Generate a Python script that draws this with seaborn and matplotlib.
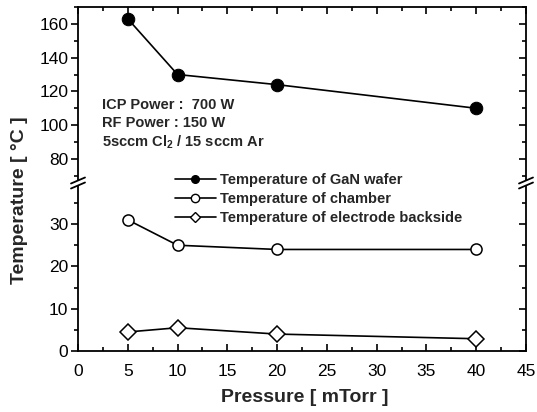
import matplotlib
matplotlib.use("Agg")
import matplotlib.pyplot as plt
from matplotlib.lines import Line2D
from matplotlib.ticker import MultipleLocator
import seaborn as sns
import pandas as pd

pressure = [5, 10, 20, 40]
gan_wafer = [163, 130, 124, 110]
chamber = [31, 25, 24, 24]
electrode = [4.5, 5.5, 4.0, 2.9]
labels = ["Temperature of GaN wafer", "Temperature of chamber",
          "Temperature of electrode backside"]
notes = ["ICP Power :  700 W", "RF Power : 150 W", "5sccm Cl$_2$ / 15 sccm Ar"]

sns.set_style("ticks")
plt.rcParams["font.family"] = ["Liberation Sans", "DejaVu Sans"]
plt.rcParams["mathtext.fontset"] = "custom"
plt.rcParams["mathtext.rm"] = "Liberation Sans:bold"
plt.rcParams["mathtext.default"] = "rm"

W, H = 537, 412
fig = plt.figure(figsize=(W / 100, H / 100), dpi=100)

def fx(px):
    return px / W

def fy(py):
    return 1 - py / H

L, R = 78, 526
ax_top = fig.add_axes([fx(L), fy(180), fx(R - L), fy(7) - fy(180)])
ax_bot = fig.add_axes([fx(L), fy(351), fx(R - L), fy(186) - fy(351)])

df = pd.DataFrame({"p": pressure, "gan": gan_wafer, "ch": chamber, "el": electrode})

sns.lineplot(data=df, x="p", y="gan", ax=ax_top, color="black", lw=1.2,
             marker="o", markersize=9, markerfacecolor="black",
             markeredgecolor="black", label=labels[0], legend=False)
sns.lineplot(data=df, x="p", y="ch", ax=ax_bot, color="black", lw=1.2,
             marker="o", markersize=8, markerfacecolor="white",
             markeredgecolor="black", markeredgewidth=1.1, label=labels[1], legend=False)
sns.lineplot(data=df, x="p", y="el", ax=ax_bot, color="black", lw=1.2,
             marker="D", markersize=8, markerfacecolor="white",
             markeredgecolor="black", markeredgewidth=1.1, label=labels[2], legend=False)

TICK_FS = 12.5
for ax in (ax_top, ax_bot):
    ax.set_xlim(0, 45)
    ax.xaxis.set_major_locator(MultipleLocator(5))
    ax.xaxis.set_minor_locator(MultipleLocator(2.5))
    for s in ax.spines.values():
        s.set_linewidth(1.3)
        s.set_color("black")
    ax.set_xlabel("")
    ax.set_ylabel("")
    ax.tick_params(axis="y", which="both", left=True, right=True, labelsize=TICK_FS,
                   direction="out", width=1.2, colors="black", pad=2)
    ax.tick_params(axis="y", which="major", length=5)
    ax.tick_params(axis="y", which="minor", length=3)
    ax.tick_params(axis="x", which="both", width=1.2, colors="black", labelsize=TICK_FS)

# top panel
ax_top.set_ylim(67.5, 170)
ax_top.yaxis.set_major_locator(MultipleLocator(20))
ax_top.yaxis.set_minor_locator(MultipleLocator(10))
ax_top.set_yticks([80, 100, 120, 140, 160])
ax_top.spines["bottom"].set_visible(False)
ax_top.tick_params(axis="x", which="both", bottom=False, labelbottom=False,
                   top=True, direction="in")
ax_top.tick_params(axis="x", which="major", length=5)
ax_top.tick_params(axis="x", which="minor", length=3)

# bottom panel
ax_bot.set_ylim(0, 39)
ax_bot.yaxis.set_major_locator(MultipleLocator(10))
ax_bot.yaxis.set_minor_locator(MultipleLocator(5))
ax_bot.spines["top"].set_visible(False)
ax_bot.tick_params(axis="x", which="both", top=False, bottom=True, direction="in")
ax_bot.tick_params(axis="x", which="major", length=5, pad=9)
ax_bot.tick_params(axis="x", which="minor", length=3)
ax_bot.set_xticks(range(0, 50, 5))

# right ticks point inward on the right spine
for ax in (ax_top, ax_bot):
    for t in ax.yaxis.get_major_ticks() + ax.yaxis.get_minor_ticks():
        t.tick2line.set_marker(0)

# break marks
for xp in (L, R):
    for yp in (180.5, 185.5):
        fig.add_artist(Line2D([fx(xp - 7), fx(xp + 7)], [fy(yp + 3), fy(yp - 3)],
                              color="black", lw=1.3, transform=fig.transFigure))

# annotation
for txt, yv in zip(notes, [112, 101.2, 90]):
    ax_top.text(2.4, yv, txt, fontsize=10.5, fontweight="bold", va="center", ha="left")

# legend
handles = [
    Line2D([], [], color="black", lw=1.2, marker="o", markersize=5.5,
           markerfacecolor="black", markeredgecolor="black"),
    Line2D([], [], color="black", lw=1.2, marker="o", markersize=6,
           markerfacecolor="white", markeredgecolor="black"),
    Line2D([], [], color="black", lw=1.2, marker="D", markersize=5.5,
           markerfacecolor="white", markeredgecolor="black"),
]
fig.legend(handles, labels, loc="upper left", bbox_to_anchor=(fx(175), fy(173)),
           frameon=False, borderpad=0, borderaxespad=0, handlelength=2.8,
           handletextpad=0.3, labelspacing=0.35,
           prop={"size": 10.5, "weight": "bold"})

fig.text(fx(20), fy(200), "Temperature [ °C ]", rotation=90, fontsize=14,
         fontweight="bold", ha="center", va="center")
fig.text(fx(305), fy(398), "Pressure [ mTorr ]", fontsize=14,
         fontweight="bold", ha="center", va="center")

fig.savefig("out.png", dpi=100, facecolor="white")
